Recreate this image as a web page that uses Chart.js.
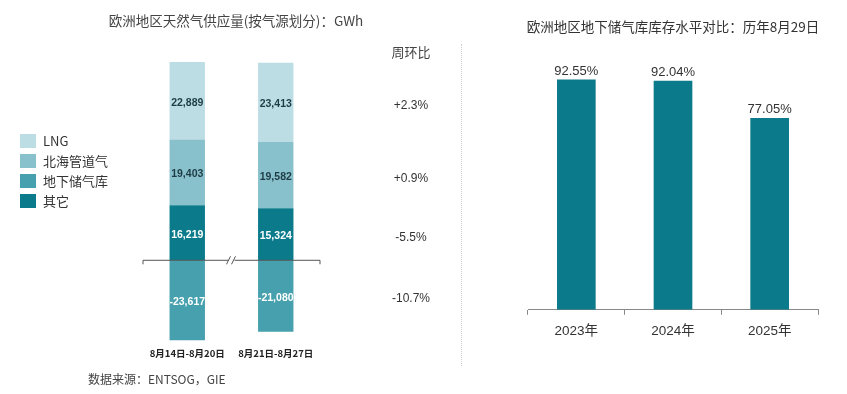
<!DOCTYPE html>
<html>
<head>
<meta charset="utf-8">
<script src="https://cdn.jsdelivr.net/npm/chart.js@4/dist/chart.umd.min.js"></script>
<style>
  html, body { margin: 0; padding: 0; background: #fff; }
  body { width: 847px; height: 394px; position: relative; overflow: hidden;
         font-family: "Noto Sans CJK SC", "Liberation Sans", sans-serif; color: #333; }
  canvas { position: absolute; top: 0; }
  #leftChart { left: 0; }
  #rightChart { left: 470px; }
  .txt { position: absolute; white-space: nowrap; transform: translate(-50%, -50%); }
  #legend { position: absolute; left: 20px; top: 131px; font-size: 13px; color: #333; }
  #legend div { height: 20px; line-height: 20px; display: flex; align-items: center; }
  #legend span.box { display: inline-block; width: 16px; height: 14px; margin-right: 7px; }
  #divider { position: absolute; left: 461px; top: 44px; height: 322px; border-left: 1.5px dotted #d0d0d0; }
</style>
</head>
<body>
<canvas id="leftChart" width="460" height="394"></canvas>
<canvas id="rightChart" width="377" height="394"></canvas>
<div class="txt" style="left:236px; top:20px; font-size:13.5px; color:#444;">欧洲地区天然气供应量(按气源划分)：GWh</div>
<div class="txt" style="left:411px; top:51px; font-size:13px; color:#444;">周环比</div>
<div class="txt" style="left:673px; top:26px; font-size:13.5px; color:#333;">欧洲地区地下储气库库存水平对比：历年8月29日</div>
<div style="position:absolute; left:88px; top:370px; font-size:12px; color:#444;">数据来源：ENTSOG，GIE</div>
<div id="legend"></div>
<div id="divider"></div>
<script>
// left chart: weekly supply by source (GWh)
const weeks = ['8月14日-8月20日', '8月21日-8月27日'];
const other = [16219, 15324];
const northSea = [19403, 19582];
const lng = [22889, 23413];
const storage = [-23617, -21080];
const weeklyChange = ['-5.5%', '+0.9%', '+2.3%', '-10.7%']; // same order as the datasets

// right chart: storage level on Aug 29
const years = ['2023年', '2024年', '2025年'];
const storageLevel = [92.55, 92.04, 77.05];

const C_LNG = '#bcdde4';
const C_NORTH = '#88c0cb';
const C_STORAGE = '#47a0ad';
const C_OTHER = '#0b7b8b';

function ds(label, data, color, labelColor) {
    return { label, data, backgroundColor: color, labelColor, stack: 's' };
}

// stack order bottom-up
const leftDatasets = [
    ds('其它', other, C_OTHER, '#ffffff'),
    ds('北海管道气', northSea, C_NORTH, '#1e3c46'),
    ds('LNG', lng, C_LNG, '#1e3c46'),
    ds('地下储气库', storage, C_STORAGE, '#ffffff'),
];

// legend in the reference order
const legendOrder = ['LNG', '北海管道气', '地下储气库', '其它'];
const legendEl = document.getElementById('legend');
legendOrder.forEach(name => {
    const d = leftDatasets.find(x => x.label === name);
    const row = document.createElement('div');
    row.innerHTML = `<span class="box" style="background:${d.backgroundColor}"></span>${name}`;
    legendEl.appendChild(row);
});

const fmt = v => v.toLocaleString('en-US');

// labels inside stacked segments + week-on-week change column
const segmentLabels = {
    id: 'segmentLabels',
    afterDatasetsDraw(chart) {
        const ctx = chart.ctx;
        ctx.save();
        ctx.textAlign = 'center';
        ctx.textBaseline = 'middle';
        chart.data.datasets.forEach((d, i) => {
            const meta = chart.getDatasetMeta(i);
            ctx.font = 'bold 10.5px "Liberation Sans", Arial, sans-serif';
            meta.data.forEach((bar, j) => {
                ctx.fillStyle = d.labelColor;
                ctx.fillText(fmt(d.data[j]), bar.x, (bar.y + bar.base) / 2 + 2);
            });
            // change column, aligned with the last bar's segments
            const last = meta.data[meta.data.length - 1];
            ctx.font = '12px "Liberation Sans", Arial, sans-serif';
            ctx.fillStyle = '#333';
            ctx.fillText(weeklyChange[i], 411, (last.y + last.base) / 2 + 3);
        });
        ctx.restore();
    }
};

// zero line with end ticks and a break mark between the two weeks
const zeroAxis = {
    id: 'zeroAxis',
    afterDatasetsDraw(chart) {
        const ctx = chart.ctx;
        const a = chart.chartArea;
        const y0 = chart.scales.y.getPixelForValue(0);
        const xm = chart.scales.x.getPixelForValue(0.5);
        ctx.save();
        ctx.strokeStyle = '#555';
        ctx.lineWidth = 1;
        ctx.beginPath();
        ctx.moveTo(a.left, y0 + 4); ctx.lineTo(a.left, y0);
        ctx.lineTo(a.right, y0); ctx.lineTo(a.right, y0 + 4);
        ctx.stroke();
        ctx.fillStyle = '#fff';
        ctx.fillRect(xm - 3, y0 - 1, 6, 3);
        ctx.beginPath();
        ctx.moveTo(xm - 5, y0 + 4); ctx.lineTo(xm - 1, y0 - 4);
        ctx.moveTo(xm + 0, y0 + 4); ctx.lineTo(xm + 4, y0 - 4);
        ctx.stroke();
        ctx.restore();
    }
};

new Chart(document.getElementById('leftChart'), {
    type: 'bar',
    data: { labels: weeks, datasets: leftDatasets },
    options: {
        responsive: false,
        animation: false,
        layout: { padding: { left: 143, right: 140, top: 57, bottom: 29 } },
        datasets: { bar: { barPercentage: 0.4, categoryPercentage: 1 } },
        plugins: { legend: { display: false }, tooltip: { enabled: false } },
        scales: {
            x: {
                stacked: true,
                grid: { display: false, drawTicks: false },
                border: { display: false },
                ticks: {
                    color: '#222', padding: 6,
                    font: { family: '"Noto Sans CJK SC", sans-serif', size: 9.5, weight: 'bold' }
                }
            },
            y: { stacked: true, display: false, min: -24000, max: 60000 }
        }
    },
    plugins: [segmentLabels, zeroAxis]
});

const valueLabels = {
    id: 'valueLabels',
    afterDatasetsDraw(chart) {
        const ctx = chart.ctx;
        ctx.save();
        ctx.font = '13px "Liberation Sans", Arial, sans-serif';
        ctx.fillStyle = '#333';
        ctx.textAlign = 'center';
        ctx.textBaseline = 'bottom';
        chart.getDatasetMeta(0).data.forEach((bar, j) => {
            ctx.fillText(storageLevel[j].toFixed(2) + '%', bar.x, bar.y - 2);
        });
        ctx.restore();
    }
};

new Chart(document.getElementById('rightChart'), {
    type: 'bar',
    data: {
        labels: years,
        datasets: [{ label: '库存水平', data: storageLevel, backgroundColor: C_OTHER,
                     barPercentage: 0.4, categoryPercentage: 1 }]
    },
    options: {
        responsive: false,
        animation: false,
        layout: { padding: { left: 58, right: 29, top: 61, bottom: 47 } },
        plugins: { legend: { display: false }, tooltip: { enabled: false } },
        scales: {
            x: {
                grid: { display: true, drawOnChartArea: false, tickLength: 5, color: '#888' },
                border: { display: true, color: '#888' },
                ticks: { color: '#333', padding: 8,
                         font: { family: '"Liberation Sans", "Noto Sans CJK SC", sans-serif', size: 13.5 } }
            },
            y: { display: false, min: 0, max: 100 }
        }
    },
    plugins: [valueLabels]
});
</script>
</body>
</html>
